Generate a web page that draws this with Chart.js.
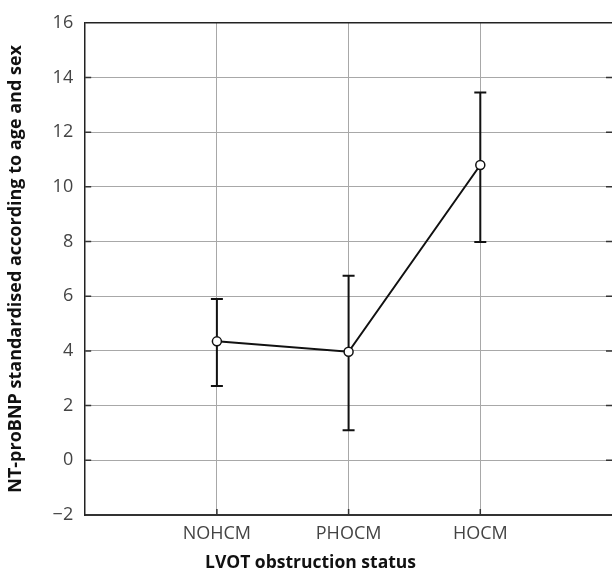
<!DOCTYPE html>
<html>
<head>
<meta charset="utf-8">
<script src="https://cdn.jsdelivr.net/npm/chart.js@4"></script>
<style>
  html, body { margin: 0; padding: 0; background: #fff; overflow: hidden; }
  #wrap { position: relative; width: 618px; height: 574px; }
</style>
</head>
<body>
<div id="wrap"><canvas id="chart"></canvas></div>
<script>
// categories sit at x = 1, 2, 3 on a 0..4 axis (empty slot at each side)
const categories = ['NOHCM', 'PHOCM', 'HOCM'];
const meanValues = [4.35, 3.97, 10.8];
const lowerValues = [2.72, 1.1, 7.98];
const upperValues = [5.9, 6.75, 13.45];
const yTicks = [-2, 0, 2, 4, 6, 8, 10, 12, 14, 16];

const ink = '#111';
const gridGray = '#a8a8a8';
const labelGray = '#444';
const fontFamily = '"Open Sans", "DejaVu Sans", sans-serif';

// error bars + inward tick marks + top border
const decorPlugin = {
    id: 'decor',
    beforeDatasetsDraw(chart) {
        const ctx = chart.ctx;
        const xs = chart.scales.x, ys = chart.scales.y;
        const area = chart.chartArea;
        ctx.save();
        ctx.strokeStyle = ink;
        ctx.lineWidth = 2;
        // error bars
        categories.forEach((c, i) => {
            const px = xs.getPixelForValue(i + 1);
            const lo = ys.getPixelForValue(lowerValues[i]);
            const hi = ys.getPixelForValue(upperValues[i]);
            ctx.beginPath();
            ctx.moveTo(px, lo); ctx.lineTo(px, hi);
            ctx.moveTo(px - 6, lo); ctx.lineTo(px + 6, lo);
            ctx.moveTo(px - 6, hi); ctx.lineTo(px + 6, hi);
            ctx.stroke();
        });
        // top border
        ctx.strokeStyle = '#222';
        ctx.lineWidth = 1.5;
        ctx.beginPath();
        ctx.moveTo(area.left, area.top);
        ctx.lineTo(chart.width, area.top);
        ctx.stroke();
        // inward ticks on left and right, bottom
        ctx.lineWidth = 1.5;
        ctx.strokeStyle = '#333';
        yTicks.forEach(v => {
            if (v === -2 || v === 16) return;
            const py = ys.getPixelForValue(v);
            ctx.beginPath();
            ctx.moveTo(area.left, py); ctx.lineTo(area.left + 6, py);
            ctx.moveTo(606, py); ctx.lineTo(612, py);
            ctx.stroke();
        });
        categories.forEach((c, i) => {
            const px = xs.getPixelForValue(i + 1);
            ctx.beginPath();
            ctx.moveTo(px, area.bottom); ctx.lineTo(px, area.bottom - 6);
            ctx.stroke();
        });
        ctx.restore();
    }
};

new Chart(document.getElementById('chart'), {
    type: 'line',
    data: {
        datasets: [{
            data: meanValues.map((v, i) => ({ x: i + 1, y: v })),
            borderColor: ink,
            borderWidth: 2,
            pointBackgroundColor: '#fff',
            pointBorderColor: ink,
            pointBorderWidth: 1.5,
            pointRadius: 4.5,
            tension: 0
        }]
    },
    options: {
        responsive: true,
        maintainAspectRatio: false,
        animation: false,
        events: [],
        layout: { padding: { top: 12, right: 2, left: 5, bottom: 0 } },
        plugins: {
            legend: { display: false },
            tooltip: { enabled: false },
            title: {
                display: true,
                position: 'bottom',
                text: 'LVOT obstruction status',
                color: ink,
                font: { family: fontFamily, size: 17.5, weight: 'bold' },
                padding: { top: 0, bottom: 0 }
            }
        },
        scales: {
            x: {
                type: 'linear',
                min: 0,
                max: 4,
                afterBuildTicks(scale) {
                    scale.ticks = categories.map((c, i) => ({ value: i + 1 }));
                },
                ticks: {
                    callback: v => categories[v - 1] || '',
                    color: labelGray,
                    font: { family: fontFamily, size: 18, lineHeight: 1 },
                    padding: 10,
                    maxRotation: 0
                },
                grid: { color: gridGray, lineWidth: 1, tickLength: 0 },
                border: { color: '#333', width: 2 }
            },
            y: {
                min: -2,
                max: 16,
                afterBuildTicks(scale) {
                    scale.ticks = yTicks.map(v => ({ value: v }));
                },
                ticks: {
                    callback: v => v < 0 ? '\u2212' + Math.abs(v) : String(v),
                    color: labelGray,
                    font: { family: fontFamily, size: 18 },
                    padding: 12
                },
                grid: { color: gridGray, lineWidth: 1, tickLength: 0 },
                border: { color: '#222', width: 1.5 },
                title: {
                    display: true,
                    text: 'NT-proBNP standardised according to age and sex',
                    color: ink,
                    font: { family: fontFamily, size: 18, weight: 'bold' },
                    padding: { top: 0, bottom: 14 }
                }
            }
        }
    },
    plugins: [decorPlugin]
});
</script>
</body>
</html>
